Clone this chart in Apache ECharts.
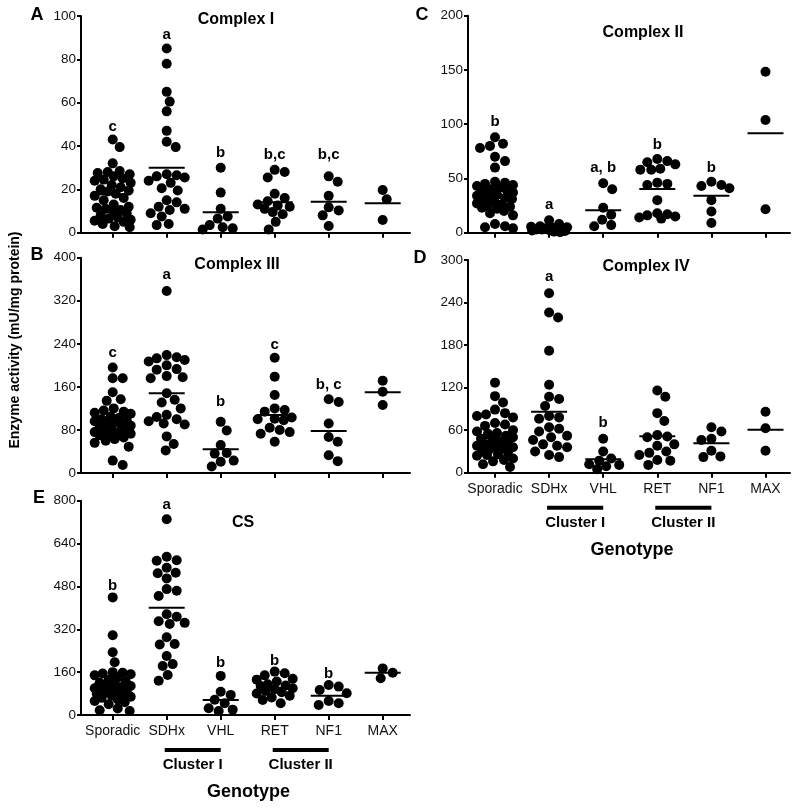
<!DOCTYPE html>
<html>
<head>
<meta charset="utf-8">
<script src="https://cdn.jsdelivr.net/npm/echarts@6/dist/echarts.min.js"></script>
<style>
html, body { margin: 0; padding: 0; background: #fff; }
#chart { width: 800px; height: 809px; }
</style>
</head>
<body>
<div id="chart"></div>
<script>
const genotypes = ['Sporadic', 'SDHx', 'VHL', 'RET', 'NF1', 'MAX'];

// values per genotype
const complexI = [
  [43, 39.5, 32, 28.5, 28, 27.5, 27, 26, 25, 24.5, 24, 23, 22, 21, 20, 19.5, 19, 18, 17, 16, 15, 13, 12, 11.5, 11, 10.5, 10, 9, 8, 7, 6.5, 6, 5.5, 5, 4, 3, 2.5],
  [85, 78, 65, 60.5, 56, 47, 42, 39.5, 27, 26.5, 26, 25.5, 24, 23, 20.5, 19.5, 15, 14, 12, 11, 10.5, 9, 7.5, 4, 3.5],
  [30, 18.5, 11, 7.5, 6.5, 3.5, 2.5, 2, 1.5],
  [29, 28, 25.5, 18, 16, 14.5, 13, 12.5, 12, 11, 9.5, 8.5, 5, 1.5],
  [26, 23.5, 17, 11.7, 10.3, 8, 3.1],
  [19.7, 15.4, 5.9]
];
const complexIMean = [17.7, 30, 9.4, 14, 14.3, 13.6];
const complexILetters = ['c', 'a', 'b', 'b,c', 'b,c', ''];
const complexILetterY = [49, 91.5, 37, 35.9, 35.9, 0];

const complexII = [
  [88, 82, 80, 78, 70, 66, 60, 47, 46, 45, 44, 43, 42, 40, 39, 38, 37, 35, 34, 33, 32, 31, 30, 28, 27, 26, 25, 24, 23, 22, 20, 18, 16, 8, 6, 5, 4],
  [11.5, 8, 6, 5.5, 5, 4.5, 4, 4, 3.5, 3, 3, 2.5, 2, 1.5, 1, 0.5],
  [45.5, 40, 23, 16.5, 12, 7, 6],
  [68, 66, 65, 63, 59, 58, 58, 46, 45, 44, 30, 18, 17, 16, 15, 14, 13],
  [47, 44, 43, 41, 30, 19.5, 9],
  [148.4, 103.9, 21.6]
];
const complexIIMean = [38.4, 4, 20.6, 40.3, 34, 91.6];
const complexIILetters = ['b', 'a', 'a, b', 'b', 'b', ''];
const complexIILetterY = [102.3, 25.5, 59.4, 80.8, 59.4, 0];

const complexIII = [
  [196, 176, 176, 150, 137, 134, 120, 116, 114, 112, 110, 105, 102, 100, 98, 96, 95, 93, 90, 88, 86, 82, 80, 78, 76, 75, 73, 72, 70, 66, 63, 60, 56, 49, 23, 15],
  [338, 219, 215, 213, 210, 207, 200, 193, 192, 180, 178, 176, 148, 136, 131, 120, 108, 104, 100, 96, 92, 90, 68, 54, 42],
  [95, 79, 52, 37, 36, 23, 21, 12],
  [214, 179, 145, 120, 117, 114, 103, 101, 100, 98, 84, 80, 76, 73, 58],
  [137, 132, 92, 67, 58, 33, 22],
  [171.6, 151, 126.4]
];
const complexIIIMean = [96, 148, 44, 107.8, 78, 150];
const complexIIILetters = ['c', 'a', 'b', 'c', 'b, c', ''];
const complexIIILetterY = [224, 368, 132.5, 238, 163.6, 0];

const complexIV = [
  [127, 108, 99, 89, 84, 82, 80, 78, 66, 70, 68, 56, 60, 58, 55, 52, 50, 48, 46, 44, 42, 40, 38, 37, 36, 35, 33, 30, 28, 26, 25, 24, 20, 18, 16, 12, 8],
  [253, 226, 219, 172, 124, 107, 104, 94, 80, 78, 76, 64, 62, 58, 52, 50, 46, 40, 38, 36, 30, 25, 22],
  [48, 30, 20, 17, 12, 11, 9, 5],
  [116, 107, 84, 73, 53, 51, 50, 40, 38, 30, 28, 25, 18, 17, 11],
  [64, 58, 48, 46, 31, 23, 22],
  [86, 62.6, 31]
];
const complexIVMean = [48.5, 86, 18.9, 51.3, 41.5, 60.5];
const complexIVLetters = ['', 'a', 'b', '', '', ''];
const complexIVLetterY = [0, 276, 69.7, 0, 0, 0];

const cs = [
  [439, 298, 234, 197, 160, 158, 155, 152, 148, 140, 132, 125, 120, 116, 112, 108, 104, 100, 97, 95, 92, 88, 84, 80, 76, 72, 68, 64, 58, 52, 48, 40, 24, 18, 15],
  [731, 591, 578, 576, 550, 529, 531, 510, 470, 464, 444, 376, 367, 350, 344, 340, 290, 265, 263, 220, 190, 183, 149, 128],
  [146, 87, 75, 57, 44, 25, 20, 15],
  [162, 156, 148, 135, 132, 125, 115, 110, 108, 100, 96, 90, 85, 80, 72, 65, 56, 44],
  [112, 106, 93, 81, 52, 44, 37],
  [174, 158, 137]
];
const csMean = [118, 400, 56, 102, 72, 158];
const csLetters = ['b', 'a', 'b', 'b', 'b', ''];
const csLetterY = [482, 783, 195, 201, 153, 0];

const FONT = 'Arial, "Liberation Sans", Helvetica, sans-serif';
const DOT = 10;
const HALF_MEAN = 18;   // px, half width of the mean bar

const panels = [
  { tag: 'A', title: 'Complex I', vals: complexI, means: complexIMean, letters: complexILetters, letterY: complexILetterY,
    axisX: 81, axisEnd: 410, cat0: 112.7, catW: 54, top: 16, bottom: 232.7, max: 100, step: 20,
    labels: false, titlePos: [236, 20], tagPos: [37, 15] },
  { tag: 'B', title: 'Complex III', vals: complexIII, means: complexIIIMean, letters: complexIIILetters, letterY: complexIIILetterY,
    axisX: 81, axisEnd: 410, cat0: 112.7, catW: 54, top: 257.7, bottom: 473, max: 400, step: 80,
    labels: false, titlePos: [237, 265], tagPos: [37, 255] },
  { tag: 'C', title: 'Complex II', vals: complexII, means: complexIIMean, letters: complexIILetters, letterY: complexIILetterY,
    axisX: 468, axisEnd: 790, cat0: 495, catW: 54.1, top: 15.7, bottom: 232.7, max: 200, step: 50,
    labels: false, titlePos: [643, 33], tagPos: [422, 15] },
  { tag: 'D', title: 'Complex IV', vals: complexIV, means: complexIVMean, letters: complexIVLetters, letterY: complexIVLetterY,
    axisX: 468, axisEnd: 790, cat0: 495, catW: 54.1, top: 260, bottom: 472.7, max: 300, step: 60,
    labels: true, titlePos: [646, 267], tagPos: [420, 258] },
  { tag: 'E', title: 'CS', vals: cs, means: csMean, letters: csLetters, letterY: csLetterY,
    axisX: 81, axisEnd: 410, cat0: 112.7, catW: 54, top: 500.7, bottom: 715, max: 800, step: 160,
    labels: true, titlePos: [243, 523], tagPos: [39, 498] }
];

// simple beeswarm: push dots sideways (px) until they stop overlapping
function swarm(vals, pxPerUnit, maxOff) {
  const order = vals.map((v, i) => i).sort((a, b) => vals[b] - vals[a]);
  const placed = [];
  const offs = [];
  order.forEach(i => {
    const y = vals[i] * pxPerUnit;
    let best = 0, bestD = -1;
    for (let k = 0; k <= 2 * maxOff; k++) {
      const o = k % 2 ? (k + 1) / 2 : -k / 2;
      let d = Infinity;
      placed.forEach(p => { d = Math.min(d, Math.hypot(p[0] - o, p[1] - y)); });
      if (d >= DOT) { best = o; bestD = d; break; }
      if (d > bestD) { bestD = d; best = o; }
    }
    placed.push([best, y]);
    offs[i] = best;
  });
  return offs;
}

const grid = [], xAxis = [], yAxis = [], series = [], graphic = [];

function txt(x, y, text, size, opts) {
  return Object.assign({
    type: 'text', x: x, y: y, silent: true,
    style: {
      text: text, fill: '#000', fontFamily: FONT, fontSize: size, fontWeight: 'bold',
      align: 'center', verticalAlign: 'middle', textAlign: 'center', textVerticalAlign: 'middle'
    }
  }, opts || {});
}

panels.forEach((p, n) => {
  const gi = 2 * n;
  const h = p.bottom - p.top;
  grid.push({ left: p.axisX, top: p.top, width: p.axisEnd - p.axisX, height: h });
  grid.push({ left: p.cat0 - p.catW / 2, top: p.top, width: 6 * p.catW, height: h });

  xAxis.push({
    type: 'value', gridIndex: gi,
    min: (p.axisX - p.cat0) / p.catW, max: (p.axisEnd - p.cat0) / p.catW,
    axisLine: { show: true, onZero: false, lineStyle: { color: '#000', width: 2 } },
    axisTick: { show: false }, axisLabel: { show: false }, splitLine: { show: false }
  });
  xAxis.push({
    type: 'category', gridIndex: gi + 1, data: genotypes, boundaryGap: true,
    axisLine: { show: false },
    axisTick: { show: true, alignWithLabel: true, interval: 0, length: 5, lineStyle: { color: '#000', width: 2 } },
    axisLabel: { show: p.labels, interval: 0, margin: 9, color: '#111', fontSize: 14, fontFamily: FONT }
  });
  yAxis.push({
    type: 'value', gridIndex: gi, min: 0, max: p.max, interval: p.step,
    axisLine: { show: true, onZero: false, lineStyle: { color: '#000', width: 2 } },
    axisTick: { show: true, length: 4, lineStyle: { color: '#000', width: 2 } },
    axisLabel: { margin: 5, color: '#111', fontSize: 13.5, fontFamily: FONT },
    splitLine: { show: false }
  });
  yAxis.push({ type: 'value', gridIndex: gi + 1, show: false });

  const pxPerUnit = h / p.max;
  const dots = [];
  p.vals.forEach((vals, g) => {
    const offs = swarm(vals, pxPerUnit, 18);
    vals.forEach((v, j) => dots.push([g + offs[j] / p.catW, v]));
  });
  series.push({
    type: 'scatter', xAxisIndex: gi, yAxisIndex: gi, data: dots,
    symbol: 'circle', symbolSize: DOT, itemStyle: { color: '#000', opacity: 1 }, silent: true, z: 2
  });

  const half = HALF_MEAN / p.catW;
  series.push({
    type: 'custom', xAxisIndex: gi, yAxisIndex: gi, silent: true, z: 3,
    data: p.means.map((m, g) => [g, m]),
    renderItem: (params, api) => {
      const g = api.value(0), m = api.value(1);
      const a = api.coord([g - half, m]), b = api.coord([g + half, m]);
      return { type: 'line', shape: { x1: a[0], y1: a[1], x2: b[0], y2: b[1] },
               style: { stroke: '#000', lineWidth: 2 } };
    }
  });

  const letterData = [];
  p.letters.forEach((t, g) => { if (t) letterData.push([g, p.letterY[g]]); });
  series.push({
    type: 'custom', xAxisIndex: gi, yAxisIndex: gi, silent: true, z: 4,
    data: letterData,
    renderItem: (params, api) => {
      const g = api.value(0);
      const pt = api.coord([g, api.value(1)]);
      return { type: 'text', x: pt[0], y: pt[1],
               style: { text: p.letters[g], fill: '#000', fontFamily: FONT, fontSize: 15, fontWeight: 'bold',
                        align: 'center', verticalAlign: 'middle' } };
    }
  });

  graphic.push(txt(p.titlePos[0], p.titlePos[1], p.title, 16));
  graphic.push(txt(p.tagPos[0], p.tagPos[1], p.tag, 18));

  if (p.labels) {
    // cluster bars under SDHx-VHL and RET-NF1
    const barY = p.bottom + 35;
    [[1, 2, 'Cluster I'], [3, 4, 'Cluster II']].forEach(c => {
      const x1 = p.cat0 + c[0] * p.catW - 2, x2 = p.cat0 + c[1] * p.catW;
      graphic.push({ type: 'rect', silent: true, shape: { x: x1, y: barY - 2, width: x2 - x1, height: 4 },
                     style: { fill: '#000' } });
      graphic.push(txt((x1 + x2) / 2, barY + 15, c[2], 15));
    });
    graphic.push(txt((p.axisX + p.axisEnd) / 2 + 3, p.bottom + 77, 'Genotype', 18));
  }
});

graphic.push(txt(15, 340, 'Enzyme activity (mU/mg protein)', 14, { rotation: Math.PI / 2 }));

const chart = echarts.init(document.getElementById('chart'));
chart.setOption({
  animation: false,
  backgroundColor: '#fff',
  grid: grid, xAxis: xAxis, yAxis: yAxis, series: series, graphic: graphic
});
</script>
</body>
</html>
